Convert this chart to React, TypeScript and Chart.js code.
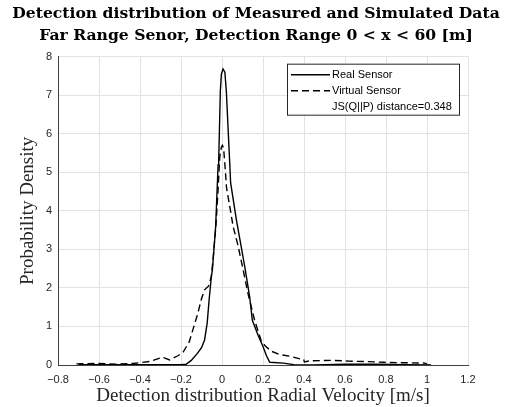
import React, { useEffect, useRef } from "react";
import { Chart, registerables } from "chart.js";

Chart.register(...registerables);

// ---- Data ----
const realX = [-0.70, -0.50, -0.30, -0.20, -0.175, -0.15, -0.12, -0.10, -0.085, -0.072, -0.063, -0.052, -0.047, -0.031, -0.019, -0.016, -0.008, -0.003, 0.005, 0.014, 0.021, 0.038, 0.042, 0.070, 0.111, 0.135, 0.148, 0.176, 0.200, 0.217, 0.233, 0.300, 0.350, 0.450, 0.600, 0.750, 0.900, 1.020];
const realY = [0.01, 0.01, 0.01, 0.01, 0.02, 0.12, 0.30, 0.45, 0.65, 1.10, 1.68, 2.29, 2.46, 3.59, 5.20, 5.33, 7.12, 7.55, 7.68, 7.60, 7.12, 5.20, 4.73, 3.77, 2.55, 1.77, 1.16, 0.77, 0.48, 0.24, 0.07, 0.05, 0.01, 0.00, 0.02, 0.02, 0.01, 0.00];

const virtualX = [-0.71, -0.60, -0.515, -0.434, -0.353, -0.29, -0.255, -0.215, -0.19, -0.16, -0.14, -0.12, -0.10, -0.085, -0.065, -0.052, -0.044, -0.030, -0.020, -0.011, -0.003, 0.002, 0.008, 0.017, 0.022, 0.040, 0.054, 0.078, 0.102, 0.127, 0.159, 0.192, 0.210, 0.240, 0.280, 0.330, 0.380, 0.398, 0.402, 0.430, 0.540, 0.620, 0.700, 0.790, 0.870, 0.990, 1.000];
const virtualY = [0.03, 0.04, 0.02, 0.04, 0.09, 0.20, 0.13, 0.24, 0.33, 0.60, 0.95, 1.30, 1.72, 1.95, 2.05, 2.30, 2.72, 3.59, 4.47, 5.40, 5.65, 5.70, 5.62, 5.00, 4.60, 4.05, 3.60, 3.10, 2.50, 1.85, 1.16, 0.62, 0.50, 0.36, 0.27, 0.23, 0.16, 0.15, 0.08, 0.11, 0.12, 0.10, 0.09, 0.07, 0.06, 0.05, 0.02];

const seriesLabels = ["Real Sensor", "Virtual Sensor"];
const legendNote = "JS(Q||P) distance=0.348";
const titleLines = [
  "Detection distribution of Measured and Simulated Data",
  "Far Range Senor, Detection Range 0 < x < 60 [m]",
];
const xAxisTitle = "Detection distribution Radial Velocity [m/s]";
const yAxisTitle = "Probability Density";
const xTicks = [-0.8, -0.6, -0.4, -0.2, 0, 0.2, 0.4, 0.6, 0.8, 1, 1.2];
const yTicks = [0, 1, 2, 3, 4, 5, 6, 7, 8];

const fmt = (v: number) => {
  const r = Math.round(v * 10) / 10;
  const s = String(Math.abs(r));
  return r < 0 ? "\u2212" + s : s;
};

const legendPlugin = {
  id: "boxLegend",
  afterDatasetsDraw(chart: any) {
    const { ctx, chartArea } = chart;
    const w = 172;
    const h = 51;
    const left = chartArea.right - 9 - w;
    const top = chartArea.top + 7;
    ctx.save();
    ctx.fillStyle = "#ffffff";
    ctx.fillRect(left, top, w, h);
    ctx.strokeStyle = "#262626";
    ctx.lineWidth = 1;
    ctx.strokeRect(left + 0.5, top + 0.5, w, h);
    ctx.font = "11px 'Liberation Sans', Arial, sans-serif";
    ctx.textBaseline = "middle";
    ctx.fillStyle = "#000000";
    const rows = [top + 11, top + 27, top + 43];
    chart.data.datasets.forEach((ds: any, i: number) => {
      const y = rows[i];
      ctx.beginPath();
      ctx.setLineDash(ds.borderDash || []);
      ctx.strokeStyle = ds.borderColor;
      ctx.lineWidth = ds.borderWidth;
      ctx.moveTo(left + 4, y);
      ctx.lineTo(left + 43, y);
      ctx.stroke();
      ctx.setLineDash([]);
      ctx.fillText(ds.label, left + 45, y);
    });
    ctx.fillText(legendNote, left + 45, rows[2]);
    ctx.restore();
  },
};

export default function App() {
  const ref = useRef<HTMLCanvasElement | null>(null);

  useEffect(() => {
    if (!ref.current) return;
    const toPts = (xs: number[], ys: number[]) => xs.map((x, i) => ({ x, y: ys[i] }));
    const tickFont = { family: "'Liberation Sans', Arial, sans-serif", size: 11 };
    const labelFont = { family: "'Liberation Serif', 'Times New Roman', serif", size: 19 };
    const chart = new Chart(ref.current, {
      type: "line",
      data: {
        datasets: [
          {
            label: seriesLabels[0],
            data: toPts(realX, realY),
            borderColor: "#000000",
            borderWidth: 1.4,
            pointRadius: 0,
            tension: 0,
            fill: false,
          },
          {
            label: seriesLabels[1],
            data: toPts(virtualX, virtualY),
            borderColor: "#000000",
            borderWidth: 1.4,
            borderDash: [7, 4],
            pointRadius: 0,
            tension: 0,
            fill: false,
          },
        ],
      },
      options: {
        responsive: false,
        animation: false,
        devicePixelRatio: 1,
        layout: { padding: { top: 0, left: 0, right: 0, bottom: 0 } },
        plugins: {
          legend: { display: false },
          tooltip: { enabled: false },
          title: {
            display: true,
            text: titleLines,
            color: "#000000",
            font: { family: "'DejaVu Serif', serif", size: 15.6, weight: "bold", lineHeight: 1.4 },
            padding: { top: 3, bottom: 10 },
          },
        },
        scales: {
          x: {
            type: "linear",
            min: -0.8,
            max: 1.2,
            afterBuildTicks: (scale: any) => {
              scale.ticks = xTicks.map((v) => ({ value: v }));
            },
            afterFit: (scale: any) => {
              scale.height = 42;
            },
            ticks: { callback: (v: any) => fmt(Number(v)), font: tickFont, color: "#262626", padding: 8, maxRotation: 0, autoSkip: false },
            grid: { color: "#e2e2e2", drawTicks: false },
            border: { display: true, color: "#404040", width: 1 },
            title: { display: true, text: xAxisTitle, font: labelFont, color: "#262626", padding: { top: 0, bottom: 0 } },
          },
          y: {
            type: "linear",
            min: 0,
            max: 8,
            afterBuildTicks: (scale: any) => {
              scale.ticks = yTicks.map((v) => ({ value: v }));
            },
            afterFit: (scale: any) => {
              scale.width = 58;
            },
            ticks: { callback: (v: any) => fmt(Number(v)), font: tickFont, color: "#262626", padding: 6, autoSkip: false },
            grid: { color: "#e2e2e2", drawTicks: false },
            border: { display: true, color: "#404040", width: 1 },
            title: { display: true, text: yAxisTitle, font: labelFont, color: "#262626", padding: { top: 17, bottom: 0 } },
          },
          yRight: {
            type: "linear",
            position: "right",
            min: 0,
            max: 8,
            display: true,
            afterFit: (scale: any) => {
              scale.width = 44;
            },
            ticks: { display: false },
            grid: { display: false, drawTicks: false },
            border: { display: false },
          },
        },
      },
      plugins: [legendPlugin],
    });
    return () => chart.destroy();
  }, []);

  return (
    <div style={{ position: "fixed", left: 0, top: 0, width: 512, height: 407, background: "#ffffff" }}>
      <canvas ref={ref} width={512} height={407} style={{ display: "block" }} />
    </div>
  );
}
